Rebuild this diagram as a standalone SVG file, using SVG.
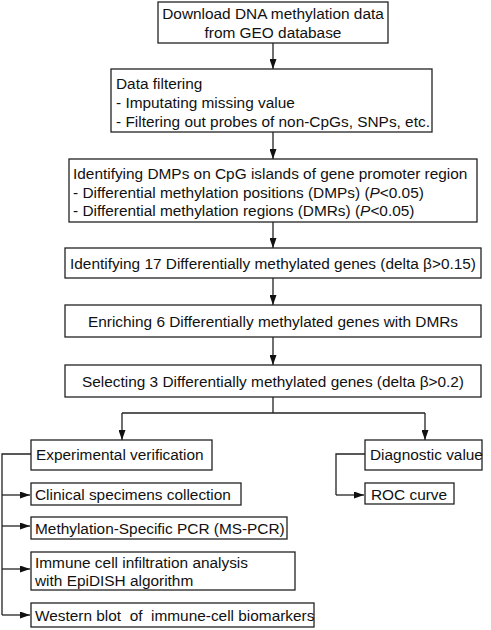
<svg xmlns="http://www.w3.org/2000/svg" width="491" height="630" viewBox="0 0 491 630">
<defs>
<marker id="ah" markerWidth="10" markerHeight="7" refX="10" refY="3.5" orient="auto" markerUnits="userSpaceOnUse">
<path d="M0,0 L10,3.5 L0,7 Z" fill="#111"/>
</marker>
<style>
rect{fill:#fff;stroke:#222;stroke-width:1.3}
text{font-family:"Liberation Sans",Arial,sans-serif;font-size:15.4px;fill:#111;white-space:pre}
.c{text-anchor:middle}
.ln{fill:none;stroke:#222;stroke-width:1.3}
.ar{fill:none;stroke:#222;stroke-width:1.3;marker-end:url(#ah)}
</style>
</defs>
<rect width="491" height="630" style="fill:#fff;stroke:none"/>
<g id="connectors">
<line class="ar" x1="273" y1="43" x2="273" y2="69"/>
<line class="ar" x1="273" y1="132" x2="273" y2="159"/>
<line class="ar" x1="273" y1="222" x2="273" y2="248"/>
<line class="ar" x1="273" y1="278" x2="273" y2="305"/>
<line class="ar" x1="273" y1="337" x2="273" y2="365"/>
<polyline class="ln" points="273,397 273,413"/>
<polyline class="ar" points="122,413 122,440"/>
<polyline class="ln" points="122,413 425,413"/>
<polyline class="ar" points="425,413 425,440"/>
<polyline class="ln" points="31,454 2,454 2,615"/>
<line class="ar" x1="2" y1="495" x2="30" y2="495"/>
<line class="ar" x1="2" y1="526" x2="30" y2="526"/>
<line class="ar" x1="2" y1="569" x2="30" y2="569"/>
<line class="ar" x1="2" y1="615" x2="30" y2="615"/>
<polyline class="ln" points="365,454 336,454 336,495"/>
<line class="ar" x1="336" y1="495" x2="364" y2="495"/>
</g>
<g id="n1"><rect x="158" y="2" width="230" height="41"/>
<text class="c" x="273" y="19">Download DNA methylation data</text>
<text class="c" x="273" y="38">from GEO database</text></g>
<g id="n2"><rect x="111" y="69" width="321" height="63"/>
<text x="116" y="89">Data filtering</text>
<text x="116" y="108">- Imputating missing value</text>
<text x="116" y="127">- Filtering out probes of non-CpGs, SNPs, etc.</text></g>
<g id="n3"><rect x="69" y="159" width="408" height="63"/>
<text x="73" y="179">Identifying DMPs on CpG islands of gene promoter region</text>
<text x="73" y="198">- Differential methylation positions (DMPs) (<tspan font-style="italic">P</tspan>&lt;0.05)</text>
<text x="73" y="216">- Differential methylation regions (DMRs) (<tspan font-style="italic">P</tspan>&lt;0.05)</text></g>
<g id="n4"><rect x="65" y="248" width="416" height="30"/>
<text class="c" x="273" y="269">Identifying 17 Differentially methylated genes (delta β&gt;0.15)</text></g>
<g id="n5"><rect x="65" y="305" width="416" height="32"/>
<text class="c" x="273" y="327">Enriching 6 Differentially methylated genes with DMRs</text></g>
<g id="n6"><rect x="65" y="365" width="416" height="32"/>
<text class="c" x="273" y="387">Selecting 3 Differentially methylated genes (delta β&gt;0.2)</text></g>
<g id="n7"><rect x="31" y="440" width="181" height="30"/>
<text x="36" y="460">Experimental verification</text></g>
<g id="n8"><rect x="365" y="440" width="117" height="30"/>
<text x="370" y="460">Diagnostic value</text></g>
<g id="n9"><rect x="31" y="483" width="210" height="22"/>
<text x="35" y="500">Clinical specimens collection</text></g>
<g id="n10"><rect x="31" y="517" width="256" height="22"/>
<text x="35" y="534">Methylation-Specific PCR (MS-PCR)</text></g>
<g id="n11"><rect x="31" y="552" width="264" height="38"/>
<text x="35" y="568">Immune cell infiltration analysis</text>
<text x="35" y="586">with EpiDISH algorithm</text></g>
<g id="n12"><rect x="31" y="603" width="283" height="24"/>
<text x="35" y="621">Western blot  of  immune-cell biomarkers</text></g>
<g id="n13"><rect x="365" y="483" width="89" height="21"/>
<text x="371" y="500">ROC curve</text></g>
</svg>
